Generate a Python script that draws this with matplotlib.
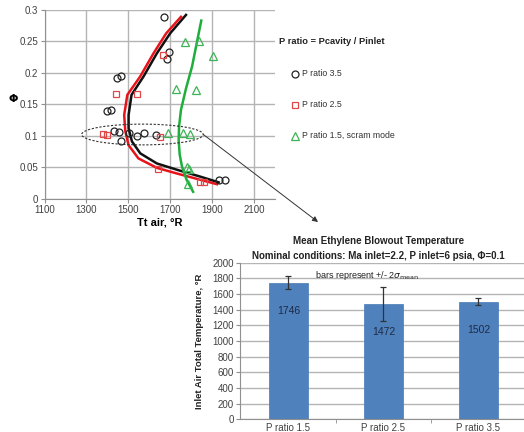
import numpy as np
import matplotlib.pyplot as plt
from matplotlib.lines import Line2D
from matplotlib.patches import Ellipse

plt.rcParams['font.family'] = ['Liberation Sans', 'DejaVu Sans']

# Blowout points, Tt air (R) vs phi
circ_T = [1671, 1692, 1682, 1445, 1464, 1400, 1416, 1429, 1457, 1464, 1505, 1541, 1576, 1633, 1931, 1962]
circ_phi = [0.288, 0.233, 0.222, 0.192, 0.195, 0.139, 0.141, 0.108, 0.106, 0.091, 0.104, 0.100, 0.104, 0.102, 0.030, 0.029]
sq_T = [1665, 1442, 1541, 1381, 1400, 1649, 1641, 1844, 1863]
sq_phi = [0.229, 0.166, 0.167, 0.103, 0.102, 0.098, 0.047, 0.026, 0.026]
tri_T = [1768, 1835, 1902, 1725, 1824, 1687, 1761, 1796, 1780, 1788, 1783]
tri_phi = [0.249, 0.251, 0.227, 0.174, 0.173, 0.104, 0.104, 0.103, 0.051, 0.047, 0.024]

# trend curves
blk_phi = [0.292, 0.263, 0.231, 0.194, 0.165, 0.133, 0.112, 0.091, 0.072, 0.056, 0.046, 0.035, 0.026]
blk_T = [1775, 1700, 1636, 1572, 1515, 1501, 1501, 1517, 1557, 1636, 1732, 1844, 1931]
red_phi = [0.289, 0.263, 0.231, 0.194, 0.165, 0.133, 0.108, 0.085, 0.064, 0.049, 0.040, 0.030, 0.023]
red_T = [1751, 1681, 1620, 1556, 1495, 1480, 1485, 1501, 1548, 1636, 1732, 1844, 1923]
grn_phi = [0.283, 0.250, 0.210, 0.175, 0.141, 0.115, 0.093, 0.070, 0.051, 0.030, 0.011]
grn_T = [1848, 1828, 1804, 1775, 1751, 1742, 1740, 1745, 1756, 1778, 1809]

# bar chart
cats = ['P ratio 1.5', 'P ratio 2.5', 'P ratio 3.5']
mean_T = [1746, 1472, 1502]
err_T = [80, 215, 45]

W, H = 524, 432
fig = plt.figure(figsize=(W / 100, H / 100), dpi=100)

def box(l, t, r, b):
    return [l / W, 1 - b / H, (r - l) / W, (b - t) / H]

grid_c = '#b4b4b4'
tick_c = '#404040'

# ---- top scatter ----
ax = fig.add_axes(box(44.6, 9.9, 275, 198.7))
ax.set_xlim(1100, 2200)
ax.set_ylim(0, 0.3)
ax.set_xticks(np.arange(1100, 2200, 200))
ax.set_yticks(np.arange(0, 0.31, 0.05))
ax.set_yticklabels(['0', '0.05', '0.1', '0.15', '0.2', '0.25', '0.3'])
ax.grid(True, color=grid_c, lw=1)
ax.set_axisbelow(True)
for s in ['top', 'right']:
    ax.spines[s].set_visible(False)
for s in ['left', 'bottom']:
    ax.spines[s].set_color('#909090')
ax.tick_params(labelsize=7, colors=tick_c, length=3, width=0.8, pad=1.5)
ax.tick_params(color='#909090')

ax.plot(blk_T, blk_phi, color='#111111', lw=1.8, solid_joinstyle='round', zorder=3)
ax.plot(red_T, red_phi, color='#e8141c', lw=1.8, solid_joinstyle='round', zorder=3)
ax.plot(grn_T, grn_phi, color='#1fae3c', lw=1.8, solid_joinstyle='round', zorder=3)
ax.plot(circ_T, circ_phi, 'o', ms=5, mfc='none', mec='#222222', mew=0.9, zorder=4)
ax.plot(sq_T, sq_phi, 's', ms=5, mfc='none', mec='#e04848', mew=0.9, zorder=4)
ax.plot(tri_T, tri_phi, '^', ms=5.5, mfc='none', mec='#3cb455', mew=0.9, zorder=4)

ax.add_patch(Ellipse((1567, 0.102), 580, 0.033, fill=False, ls=(0, (2, 1.5)),
                     lw=0.8, ec='#333333', zorder=5))
ax.annotate('', xy=(318 / W, 1 - 222 / H), xycoords='figure fraction',
            xytext=(1858, 0.102), textcoords='data',
            arrowprops=dict(arrowstyle='-|>', color='#333333', lw=0.7,
                            mutation_scale=8, shrinkA=0, shrinkB=0),
            annotation_clip=False)

ax.set_xlabel('Tt air, °R', fontsize=8, fontweight='bold', labelpad=2)
ax.set_ylabel('Φ', fontsize=8, fontweight='bold', rotation=0, labelpad=8,
              family=['DejaVu Sans'])
ax.yaxis.set_label_coords(-0.135, 0.5)

fig.text(279 / W, 1 - 41 / H, 'P ratio = Pcavity / Pinlet', fontsize=6.7,
         fontweight='bold', va='center', color='#222222')
handles = [Line2D([], [], ls='none', marker='o', ms=5, mfc='none', mec='#222222'),
           Line2D([], [], ls='none', marker='s', ms=5, mfc='none', mec='#e04848'),
           Line2D([], [], ls='none', marker='^', ms=5.5, mfc='none', mec='#3cb455')]
labels = ['P ratio 3.5', 'P ratio 2.5', 'P ratio 1.5, scram mode']
for i, (h, lab) in enumerate(zip(handles, labels)):
    y = 1 - (73.5 + 31 * i) / H
    fig.add_artist(Line2D([295 / W], [y], ls='none', marker=h.get_marker(),
                          ms=h.get_markersize(), mfc='none', mec=h.get_markeredgecolor(),
                          mew=0.9, transform=fig.transFigure))
    fig.text(301.5 / W, y, lab, fontsize=6.3, va='center', color='#333333')

# ---- bottom bar chart ----
bx = fig.add_axes(box(240, 262.7, 524, 419.3))
x = np.arange(len(cats))
bx.bar(x, mean_T, width=0.404, color='#4f81bd', edgecolor='#4a7ab4', lw=0.5, zorder=2,
       yerr=err_T, error_kw=dict(ecolor='#333333', elinewidth=0.9, capsize=2.5, capthick=0.9))
for xi, v in zip(x, mean_T):
    bx.annotate(str(v), (xi, v), xytext=(0, -28), textcoords='offset pixels',
                ha='center', va='center', fontsize=7.5, color='#1f2a44')
bx.set_xlim(-0.51, 2.48)
bx.set_ylim(0, 2000)
bx.set_yticks(np.arange(0, 2001, 200))
bx.set_xticks(x)
bx.set_xticklabels(cats)
bx.set_xticks([0.5, 1.5], minor=True)
bx.tick_params(axis='x', which='major', length=0, labelsize=7, colors=tick_c, pad=3)
bx.tick_params(axis='x', which='minor', length=3, color='#909090')
bx.tick_params(axis='y', labelsize=7, colors=tick_c, length=3, color='#909090', pad=1.5)
bx.yaxis.grid(True, color=grid_c, lw=1)
bx.set_axisbelow(True)
for s in ['top', 'right']:
    bx.spines[s].set_visible(False)
for s in ['left', 'bottom']:
    bx.spines[s].set_color('#909090')
bx.set_ylabel('Inlet Air Total Temperature, °R', fontsize=6.8, fontweight='bold',
              color='#222222', labelpad=6)

fig.text(379 / W, 1 - 241 / H, 'Mean Ethylene Blowout Temperature', fontsize=7,
         fontweight='bold', ha='center', va='center', color='#222222')
fig.text(378 / W, 1 - 256 / H, 'Nominal conditions: Ma inlet=2.2, P inlet=6 psia, Φ=0.1',
         fontsize=7, fontweight='bold', ha='center', va='center', color='#222222')
fig.text(367 / W, 1 - 275 / H, r'bars represent +/- 2$\sigma_{\mathrm{mean}}$',
         fontsize=6.5, ha='center', va='center', color='#222222')

fig.savefig('out.png', dpi=100)
